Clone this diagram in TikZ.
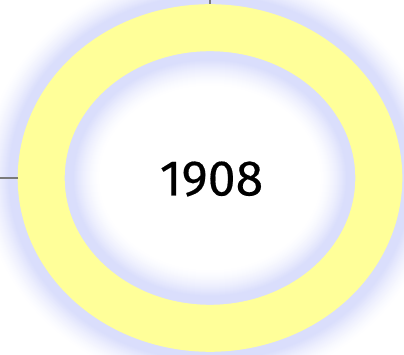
\documentclass[tikz,border=0pt]{standalone}
\usepackage{fontspec}
\setmainfont{Fira Sans}
\newfontfamily\yearfont[FakeBold=0.35]{Fira Sans}
\usetikzlibrary{shapes.geometric}
\definecolor{RingYellow}{HTML}{FFFF99}
\definecolor{GlowBlue}{HTML}{DADEFC}
\definecolor{StubGray}{HTML}{7A7A7A}
\tikzset{
  ringframe/.style={ellipse, draw=none, inner sep=0pt, outer sep=0pt, minimum width=384pt, minimum height=348pt},
  ringband/.style={draw=RingYellow, line width=47pt},
  yearlabel/.style={font=\yearfont\fontsize{50}{54}\selectfont, text=black, inner sep=0pt},
  stub/.style={draw=StubGray, line width=1.8pt}
}
\begin{document}
\begin{tikzpicture}[x=1pt, y=1pt]
\useasboundingbox[fill=white] (0,0) rectangle (404,355);
\coordinate (origin) at (0,355);
\node[ringframe] (ring) at (210,177) {};
% soft blue halo on both sides of the band
\foreach \k in {36,...,1} {
  \pgfmathsetmacro\glowmix{\k<=9 ? 100 : 100*(1-(\k-9)/27)^1.5}
  \draw[draw=GlowBlue!\glowmix!white, line width={(47+2*\k)*1pt}] (ring.center) ellipse [x radius=168.8, y radius=150.3];
}
\draw[ringband] (ring.center) ellipse [x radius=168.8, y radius=150.3];
\coordinate (topend) at (ring.north |- origin);
\coordinate (leftend) at (ring.west -| origin);
\draw[stub] (ring.north) -- (topend);
\draw[stub] (ring.west) -- (leftend);
\node[yearlabel] (year) at (211.5,176) {1908};
\end{tikzpicture}
\end{document}
